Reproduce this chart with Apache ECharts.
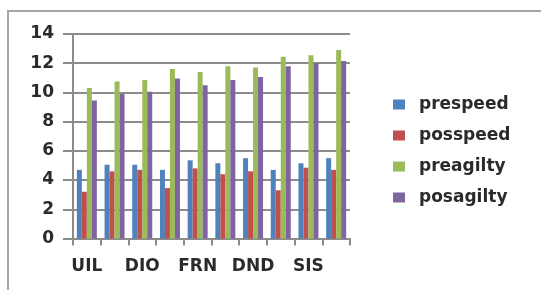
<!DOCTYPE html>
<html>
<head>
<meta charset="utf-8">
<script src="https://cdn.jsdelivr.net/npm/echarts@6/dist/echarts.min.js"></script>
<style>
  html, body { margin: 0; padding: 0; background: #fff; }
  #chart { width: 541px; height: 290px; }
</style>
</head>
<body>
<div id="chart"></div>
<script>
// categories (only every other one is labelled in the source)
const categories = ['UIL', '', 'DIO', '', 'FRN', '', 'DND', '', 'SIS', '']
const seriesNames = ['prespeed', 'posspeed', 'preagilty', 'posagilty']

// values
const prespeed  = [4.7, 5.05, 5.05, 4.7, 5.35, 5.15, 5.5, 4.7, 5.15, 5.5]
const posspeed  = [3.2, 4.6, 4.7, 3.45, 4.8, 4.4, 4.6, 3.3, 4.85, 4.7]
const preagilty = [10.3, 10.75, 10.85, 11.6, 11.4, 11.8, 11.7, 12.45, 12.55, 12.9]
const posagilty = [9.45, 9.9, 10.05, 10.95, 10.5, 10.85, 11.05, 11.8, 12.0, 12.15]

const colors = ['#4F81BD', '#C0504D', '#9BBB59', '#8064A2']
const allValues = [prespeed, posspeed, preagilty, posagilty]

const chart = echarts.init(document.getElementById('chart'), null, { renderer: 'canvas' })

const option = {
  animation: false,
  color: colors,
  textStyle: { fontFamily: 'DejaVu Sans' },
  grid: {
    left: 73,
    right: 191,
    top: 34,
    bottom: 51.5
  },
  legend: {
    orient: 'vertical',
    left: 388,
    top: 91,
    itemWidth: 12,
    itemHeight: 10,
    itemGap: 14,
    icon: 'rect',
    textStyle: {
      color: '#2a2a2a',
      fontSize: 17,
      fontWeight: 'bold',
      fontFamily: 'DejaVu Sans',
      padding: [0, 0, 0, 9]
    },
    data: seriesNames
  },
  xAxis: {
    type: 'category',
    data: categories,
    axisLine: { lineStyle: { color: '#8c8c8c', width: 2 } },
    axisTick: { show: true, length: 7, lineStyle: { color: '#8c8c8c', width: 2 } },
    axisLabel: {
      interval: 0,
      color: '#2a2a2a',
      fontSize: 17,
      fontWeight: 'bold',
      margin: 20
    }
  },
  yAxis: {
    type: 'value',
    min: 0,
    max: 14,
    interval: 2,
    axisLine: { show: true, lineStyle: { color: '#8c8c8c', width: 2 } },
    axisTick: { show: true, length: 10, lineStyle: { color: '#8c8c8c', width: 2 } },
    axisLabel: {
      color: '#2a2a2a',
      fontSize: 17,
      fontWeight: 'bold',
      margin: 19
    },
    splitLine: { lineStyle: { color: '#8c8c8c', width: 2 } }
  },
  graphic: [
    {
      type: 'polyline',
      shape: { points: [[8, 290], [8, 11], [541, 11]] },
      style: { stroke: '#a6a6a6', lineWidth: 2, fill: null }
    }
  ],
  series: seriesNames.map((name, i) => ({
    name: name,
    type: 'bar',
    data: allValues[i],
    barWidth: 5,
    barGap: '0%'
  }))
}

chart.setOption(option)
</script>
</body>
</html>
